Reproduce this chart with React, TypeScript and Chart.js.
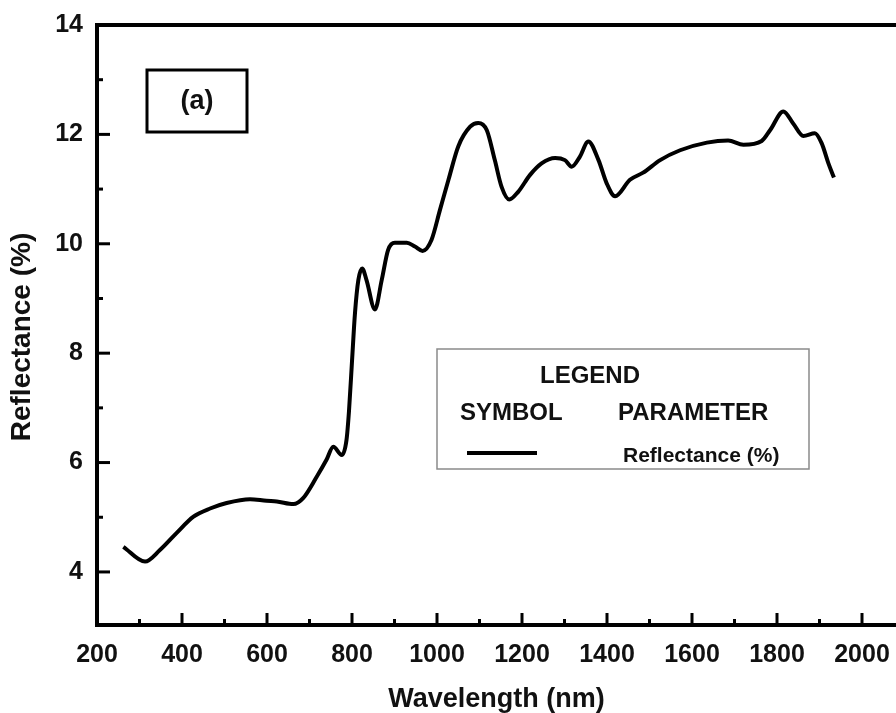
import React, { useEffect, useRef } from "react";
import { Chart, registerables } from "chart.js";

Chart.register(...registerables);

const wavelengths = [
  262, 313, 348, 387, 427, 466, 505, 560, 599, 623, 662, 685, 717, 740, 756,
  776, 787, 793, 800, 807, 815, 824, 834, 854, 870, 885, 901, 929, 948, 966,
  987, 1007, 1027, 1050, 1078, 1097, 1117, 1136, 1152, 1170, 1191, 1219, 1246,
  1278, 1301, 1317, 1336, 1356, 1380, 1399, 1419, 1454, 1485, 1525, 1572, 1635,
  1685, 1721, 1764, 1784, 1815, 1838, 1862, 1889, 1905, 1921, 1934,
];
const reflectance = [
  4.46, 4.19, 4.4, 4.71, 5.01, 5.16, 5.26, 5.33, 5.3, 5.29, 5.24, 5.35, 5.74,
  6.05, 6.29, 6.14, 6.41, 6.95, 7.85, 8.73, 9.34, 9.55, 9.34, 8.8, 9.34, 9.89,
  10.02, 10.02, 9.95, 9.87, 10.07, 10.62, 11.17, 11.78, 12.14, 12.21, 12.08,
  11.53, 11.04, 10.81, 10.95, 11.26, 11.47, 11.57, 11.53, 11.41, 11.59, 11.87,
  11.53, 11.11, 10.87, 11.17, 11.3, 11.53, 11.71, 11.85, 11.89, 11.81, 11.88,
  12.08, 12.42, 12.2, 11.97, 12.02, 11.84, 11.47, 11.21,
];

const xMajorTicks = [200, 400, 600, 800, 1000, 1200, 1400, 1600, 1800, 2000];
const xMinorTicks = [300, 500, 700, 900, 1100, 1300, 1500, 1700, 1900];
const yMajorTicks = [4, 6, 8, 10, 12, 14];
const yMinorTicks = [5, 7, 9, 11, 13];

const xTitle = "Wavelength (nm)";
const yTitle = "Reflectance (%)";
const panelLabel = "(a)";
const legendTitle = "LEGEND";
const legendHeadSymbol = "SYMBOL";
const legendHeadParam = "PARAMETER";
const legendParam = "Reflectance (%)";

const FONT = "'Liberation Sans', Arial, Helvetica, sans-serif";

const decorPlugin = {
  id: "decor",
  afterDraw(chart: any) {
    const ctx = chart.ctx as CanvasRenderingContext2D;
    const ca = chart.chartArea;
    const xs = chart.scales.x;
    const ys = chart.scales.y;
    ctx.save();
    ctx.strokeStyle = "#000";
    ctx.lineCap = "butt";

    // ticks (inward)
    ctx.lineWidth = 3;
    xMajorTicks.forEach((v) => {
      if (v === xs.min) return;
      const px = xs.getPixelForValue(v);
      ctx.beginPath();
      ctx.moveTo(px, ca.bottom);
      ctx.lineTo(px, ca.bottom - 12);
      ctx.stroke();
    });
    xMinorTicks.forEach((v) => {
      const px = xs.getPixelForValue(v);
      ctx.beginPath();
      ctx.moveTo(px, ca.bottom);
      ctx.lineTo(px, ca.bottom - 6);
      ctx.stroke();
    });
    yMajorTicks.forEach((v) => {
      if (v === ys.max) return;
      const py = ys.getPixelForValue(v);
      ctx.beginPath();
      ctx.moveTo(ca.left, py);
      ctx.lineTo(ca.left + 13, py);
      ctx.stroke();
    });
    yMinorTicks.forEach((v) => {
      const py = ys.getPixelForValue(v);
      ctx.beginPath();
      ctx.moveTo(ca.left, py);
      ctx.lineTo(ca.left + 6, py);
      ctx.stroke();
    });

    // axis lines
    ctx.lineWidth = 4;
    ctx.beginPath();
    ctx.moveTo(chart.width, ca.top);
    ctx.lineTo(ca.left, ca.top);
    ctx.lineTo(ca.left, ca.bottom);
    ctx.lineTo(chart.width, ca.bottom);
    ctx.stroke();

    // y title
    ctx.fillStyle = "#111";
    ctx.font = `bold 28px ${FONT}`;
    ctx.textAlign = "center";
    ctx.textBaseline = "middle";
    ctx.save();
    ctx.translate(22, 337);
    ctx.rotate(-Math.PI / 2);
    ctx.fillText(yTitle, 0, 0);
    ctx.restore();

    // panel label box
    ctx.lineWidth = 3;
    ctx.strokeRect(147, 70, 100, 62);
    ctx.font = `bold 27px ${FONT}`;
    ctx.fillText(panelLabel, 197, 102);

    // legend box
    ctx.lineWidth = 1.5;
    ctx.strokeStyle = "#8a8a8a";
    ctx.fillStyle = "#fff";
    ctx.fillRect(437, 349, 372, 120);
    ctx.strokeRect(437, 349, 372, 120);
    ctx.fillStyle = "#111";
    ctx.font = `bold 24px ${FONT}`;
    ctx.textAlign = "center";
    ctx.fillText(legendTitle, 590, 376);
    ctx.textAlign = "left";
    ctx.fillText(legendHeadSymbol, 460, 413);
    ctx.fillText(legendHeadParam, 618, 413);
    ctx.font = `bold 21px ${FONT}`;
    ctx.fillText(legendParam, 623, 456);
    ctx.strokeStyle = "#000";
    ctx.lineWidth = 4;
    ctx.beginPath();
    ctx.moveTo(467, 453);
    ctx.lineTo(537, 453);
    ctx.stroke();

    ctx.restore();
  },
};

export default function App() {
  const canvasRef = useRef<HTMLCanvasElement | null>(null);

  useEffect(() => {
    const canvas = canvasRef.current;
    if (!canvas) return;
    const data = wavelengths.map((w, i) => ({ x: w, y: reflectance[i] }));
    const chart = new Chart(canvas, {
      type: "line",
      data: {
        datasets: [
          {
            label: legendParam,
            data,
            borderColor: "#000",
            borderWidth: 4,
            pointRadius: 0,
            cubicInterpolationMode: "monotone",
            fill: false,
          },
        ],
      },
      options: {
        responsive: false,
        animation: false,
        layout: { padding: { top: 25, left: 0, right: 0, bottom: 0 } },
        plugins: {
          legend: { display: false },
          tooltip: { enabled: false },
        },
        scales: {
          x: {
            type: "linear",
            min: 200,
            max: 2080,
            afterBuildTicks: (scale: any) => {
              scale.ticks = xMajorTicks.map((v) => ({ value: v }));
            },
            afterFit: (scale: any) => {
              scale.height = 88;
              scale.paddingLeft = 0;
              scale.paddingRight = 0;
            },
            grid: { display: false, drawTicks: false },
            border: { display: false },
            ticks: {
              autoSkip: false,
              maxRotation: 0,
              padding: 15,
              color: "#111",
              font: { family: FONT, size: 25, weight: "bold" },
              callback: (v: any) => String(v),
            },
            title: {
              display: true,
              text: xTitle,
              color: "#111",
              font: { family: FONT, size: 27, weight: "bold", lineHeight: 1 },
              padding: 0,
            },
          },
          y: {
            type: "linear",
            min: 3.03,
            max: 14,
            afterBuildTicks: (scale: any) => {
              scale.ticks = yMajorTicks.map((v) => ({ value: v }));
            },
            afterFit: (scale: any) => {
              scale.width = 97;
              scale.paddingTop = 0;
              scale.paddingBottom = 0;
            },
            grid: { display: false, drawTicks: false },
            border: { display: false },
            ticks: {
              padding: 14,
              color: "#111",
              font: { family: FONT, size: 25, weight: "bold" },
              callback: (v: any) => String(v),
            },
          },
        },
      },
      plugins: [decorPlugin],
    });
    return () => chart.destroy();
  }, []);

  return (
    <div style={{ position: "absolute", left: 0, top: 0, width: 896, height: 713, background: "#fff" }}>
      <canvas ref={canvasRef} width={896} height={713} style={{ display: "block" }} />
    </div>
  );
}
